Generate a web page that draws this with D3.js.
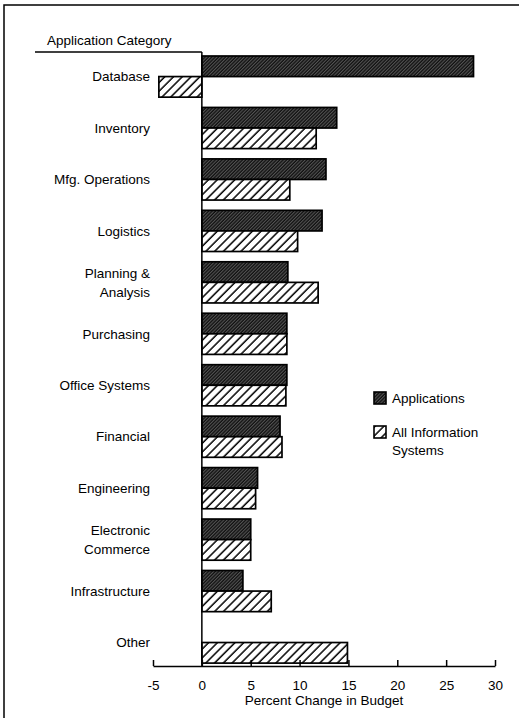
<!DOCTYPE html>
<html>
<head>
<meta charset="utf-8">
<script src="https://cdn.jsdelivr.net/npm/d3@7"></script>
<style>
  body { margin: 0; background: #fff; }
  text { font-family: "Liberation Sans", Arial, Helvetica, sans-serif; font-size: 13.5px; fill: #000; }
</style>
</head>
<body>
<div id="chart"></div>
<script>
// data
const categories = ["Database", "Inventory", "Mfg. Operations", "Logistics", "Planning & Analysis",
    "Purchasing", "Office Systems", "Financial", "Engineering", "Electronic Commerce",
    "Infrastructure", "Other"];
const categoryLines = [["Database"], ["Inventory"], ["Mfg. Operations"], ["Logistics"], ["Planning &", "Analysis"],
    ["Purchasing"], ["Office Systems"], ["Financial"], ["Engineering"], ["Electronic", "Commerce"],
    ["Infrastructure"], ["Other"]];
const applications = [27.8, 13.8, 12.7, 12.3, 8.8, 8.7, 8.7, 8.0, 5.7, 5.0, 4.2, null];
const allSystems = [-4.4, 11.7, 9.0, 9.8, 11.9, 8.7, 8.6, 8.2, 5.5, 5.0, 7.1, 14.9];
const seriesNames = ["Applications", "All Information Systems"];
const xTicks = [-5, 0, 5, 10, 15, 20, 25, 30];

const width = 519, height = 718;
const svg = d3.select('#chart').append('svg')
    .attr('width', width)
    .attr('height', height);

// hatch patterns
const defs = svg.append('defs');
const dark = defs.append('pattern')
    .attr('id', 'hatch-dark')
    .attr('patternUnits', 'userSpaceOnUse')
    .attr('width', 2.4).attr('height', 2.4)
    .attr('patternTransform', 'rotate(45)');
dark.append('rect').attr('width', 2.4).attr('height', 2.4).attr('fill', '#111');
dark.append('line').attr('x1', 0.6).attr('x2', 0.6).attr('y1', 0).attr('y2', 2.4)
    .attr('stroke', '#8a8a8a').attr('stroke-width', 0.6);

const light = defs.append('pattern')
    .attr('id', 'hatch-light')
    .attr('patternUnits', 'userSpaceOnUse')
    .attr('width', 6.2).attr('height', 6.2)
    .attr('patternTransform', 'rotate(45)');
light.append('rect').attr('width', 6.2).attr('height', 6.2).attr('fill', '#fff');
light.append('line').attr('x1', 1).attr('x2', 1).attr('y1', 0).attr('y2', 6.2)
    .attr('stroke', '#000').attr('stroke-width', 1.5);

const fills = ['url(#hatch-dark)', 'url(#hatch-light)'];

// frame
svg.append('rect')
    .attr('x', 4).attr('y', 5)
    .attr('width', 540).attr('height', 740)
    .attr('fill', 'none').attr('stroke', '#000').attr('stroke-width', 1.5);

// scales
const x = d3.scaleLinear().domain([-5, 30]).range([153, 495]);
const y = d3.scaleBand().domain(categories).range([50.85, 668.25])
    .paddingInner(0.2).paddingOuter(0.1);
const ySub = d3.scaleBand().domain([0, 1]).range([0, y.bandwidth()]);

const axisY = 666;

// bars
const rows = categories.map((c, i) => ({cat: c, vals: [applications[i], allSystems[i]]}));
const group = svg.selectAll('g.row')
    .data(rows)
    .enter().append('g')
    .attr('class', 'row')
    .attr('transform', d => `translate(0,${y(d.cat)})`);

group.selectAll('rect')
    .data(d => d.vals.map((v, k) => ({v, k})).filter(e => e.v !== null))
    .enter().append('rect')
    .attr('x', e => x(Math.min(0, e.v)))
    .attr('y', e => ySub(e.k))
    .attr('width', e => Math.abs(x(e.v) - x(0)))
    .attr('height', ySub.bandwidth())
    .attr('fill', e => fills[e.k])
    .attr('stroke', '#000')
    .attr('stroke-width', 1.7);

// category labels
const labels = svg.selectAll('text.cat')
    .data(categoryLines)
    .enter().append('text')
    .attr('class', 'cat')
    .attr('text-anchor', 'end')
    .attr('x', 150)
    .attr('y', (d, i) => y(categories[i]) + y.bandwidth() / 2 - (d.length - 1) * 9.5);
labels.selectAll('tspan')
    .data(d => d)
    .enter().append('tspan')
    .attr('x', 150)
    .attr('dy', (d, i) => i === 0 ? '0.35em' : '19px')
    .text(d => d);

// header
svg.append('text').attr('x', 47).attr('y', 45).text('Application Category');
svg.append('line')
    .attr('x1', 35).attr('x2', x(0)).attr('y1', 52).attr('y2', 52)
    .attr('stroke', '#000').attr('stroke-width', 1.5);

// zero line
svg.append('line')
    .attr('x1', x(0)).attr('x2', x(0)).attr('y1', 52).attr('y2', axisY)
    .attr('stroke', '#000').attr('stroke-width', 1.5);

// x axis
const xAxis = svg.append('g')
    .attr('transform', `translate(0,${axisY})`)
    .call(d3.axisBottom(x).tickValues(xTicks).tickSizeInner(-6).tickSizeOuter(0)
        .tickPadding(14).tickFormat(d => String(d)));
xAxis.select('.domain').attr('stroke', '#000').attr('stroke-width', 1.5);
xAxis.selectAll('.tick line').attr('stroke', '#000').attr('stroke-width', 1.5);
xAxis.selectAll('.tick text')
    .attr('font-family', '"Liberation Sans", Arial, sans-serif')
    .attr('font-size', 13.5).attr('fill', '#000');

svg.append('text')
    .attr('x', (x(-5) + x(30)) / 2).attr('y', 705)
    .attr('text-anchor', 'middle')
    .text('Percent Change in Budget');

// legend
const legendItems = [
    {fill: fills[0], lines: [seriesNames[0]], y: 392},
    {fill: fills[1], lines: ["All Information", "Systems"], y: 426}
];
const legend = svg.selectAll('g.legend')
    .data(legendItems)
    .enter().append('g')
    .attr('class', 'legend')
    .attr('transform', d => `translate(374,${d.y})`);
legend.append('rect')
    .attr('width', 12).attr('height', 12)
    .attr('fill', d => d.fill)
    .attr('stroke', '#000').attr('stroke-width', 1.6);
const legendText = legend.append('text')
    .attr('x', 18).attr('y', 6);
legendText.selectAll('tspan')
    .data(d => d.lines)
    .enter().append('tspan')
    .attr('x', 18)
    .attr('dy', (d, i) => i === 0 ? '0.35em' : '18px')
    .text(d => d);
</script>
</body>
</html>
